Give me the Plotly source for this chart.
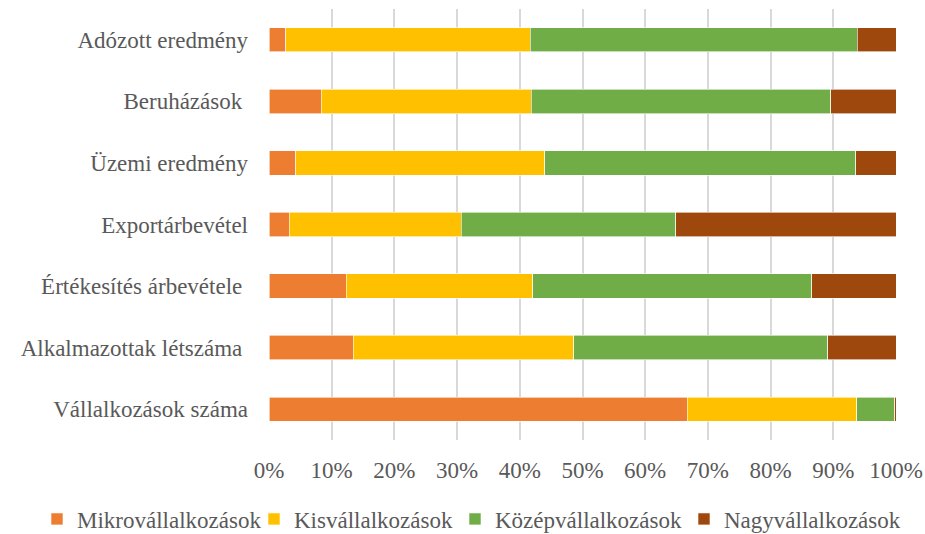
import plotly.graph_objects as go

categories = ["Adózott eredmény", "Beruházások\u00a0", "Üzemi eredmény", "Exportárbevétel",
              "Értékesítés árbevétele\u00a0", "Alkalmazottak létszáma\u00a0", "Vállalkozások száma"]
series_names = ["Mikrovállalkozások", "Kisvállalkozások", "Középvállalkozások", "Nagyvállalkozások"]
mikro = [2.7, 8.3, 4.3, 3.2, 12.3, 13.4, 66.7]
kis = [39.0, 33.5, 39.7, 27.5, 29.8, 35.2, 27.0]
kozep = [52.1, 47.8, 49.6, 34.2, 44.5, 40.5, 6.1]
nagy = [6.2, 10.4, 6.4, 35.1, 13.4, 10.9, 0.2]
colors = ["#ED7D31", "#FFC000", "#70AD47", "#9E480E"]
tick_vals = [0, 10, 20, 30, 40, 50, 60, 70, 80, 90, 100]
tick_text = ["0%", "10%", "20%", "30%", "40%", "50%", "60%", "70%", "80%", "90%", "100%"]

FONT = "Liberation Serif, Times New Roman, serif"
TXT = "#595959"
W, H = 925, 534
ml, mr, mt, mb = 269, 29, 9, 94

fig = go.Figure()
legend_lefts = [37, 254, 455, 684]
for i, (name, vals) in enumerate(zip(series_names, [mikro, kis, kozep, nagy])):
    lg = "legend" if i == 0 else f"legend{i+1}"
    fig.add_trace(go.Bar(
        y=categories, x=vals, name=name, orientation="h",
        marker=dict(color=colors[i], line=dict(color="white", width=0.6)),
        legend=lg,
    ))

layout_legends = {}
for i, left in enumerate(legend_lefts):
    key = "legend" if i == 0 else f"legend{i+1}"
    layout_legends[key] = dict(
        xref="container", yref="container",
        x=left / W, y=1 - 519 / H, xanchor="left", yanchor="middle",
        orientation="h", font=dict(family=FONT, size=23, color=TXT),
        bgcolor="rgba(0,0,0,0)", borderwidth=0, itemclick=False,
    )

fig.update_layout(
    width=W, height=H,
    margin=dict(l=ml, r=mr, t=mt, b=mb, autoexpand=False),
    barmode="stack", bargap=0.604,
    paper_bgcolor="white", plot_bgcolor="white",
    font=dict(family=FONT, size=23, color=TXT),
    showlegend=True,
    **layout_legends,
)
fig.update_xaxes(
    range=[0, 100], tickvals=tick_vals, ticktext=tick_text,
    showgrid=True, gridcolor="#D9D9D9", gridwidth=1.5,
    zeroline=False, showline=False, ticks="",
    ticklabelstandoff=14, automargin=False,
    tickfont=dict(family=FONT, size=23, color=TXT),
)
fig.update_yaxes(
    autorange="reversed", showgrid=False, zeroline=False, showline=False, ticks="",
    ticklabelstandoff=20, automargin=False,
    tickfont=dict(family=FONT, size=23, color=TXT),
)
fig.write_html("out.html", config={"displayModeBar": False},
               post_script="document.body.style.margin='0';document.body.style.overflow='hidden';")
